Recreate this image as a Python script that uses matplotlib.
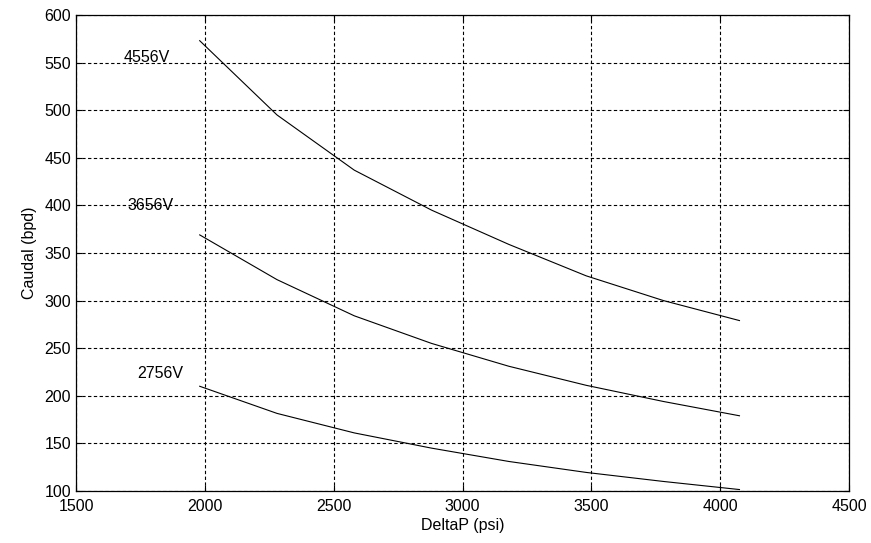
import matplotlib
matplotlib.use("Agg")
import matplotlib.pyplot as plt

# Pump curves
delta_p = [1980, 2280, 2580, 2880, 3180, 3480, 3780, 4075]
caudal_4556v = [573, 495, 437, 395, 359, 326, 300, 279]
caudal_3656v = [369, 322, 284, 255, 231, 211, 194, 179]
caudal_2756v = [210, 181.5, 161, 145, 131, 119.5, 110, 101.5]

curve_names = ["4556V", "3656V", "2756V"]
label_x = [1775, 1790, 1828]
label_y = [555, 400, 223]

x_ticks = [1500, 2000, 2500, 3000, 3500, 4000, 4500]
y_ticks = [100, 150, 200, 250, 300, 350, 400, 450, 500, 550, 600]

plt.rcParams['font.family'] = ['Liberation Sans', 'DejaVu Sans']

fig = plt.figure(figsize=(8.71, 5.43), dpi=100)
ax = fig.add_axes([0.0873, 0.0958, 0.8874, 0.8766])

for series in (caudal_4556v, caudal_3656v, caudal_2756v):
    ax.plot(delta_p, series, color='black', linewidth=0.8)

for name, tx, ty in zip(curve_names, label_x, label_y):
    ax.text(tx, ty, name, ha='center', va='center', fontsize=11.5)

ax.set_xlim(1500, 4500)
ax.set_ylim(100, 600)
ax.set_xticks(x_ticks)
ax.set_yticks(y_ticks)
ax.grid(True, color='black', linestyle=(0, (3, 2.2)), linewidth=0.8)
ax.tick_params(direction='in', length=4, top=True, right=True, labelsize=11.5,
               width=0.8, pad=3.5)
ax.tick_params(axis='x', pad=5.5)
for spine in ax.spines.values():
    spine.set_linewidth(0.9)

ax.set_xlabel('DeltaP (psi)', fontsize=11.5, labelpad=3)
ax.set_ylabel('Caudal (bpd)', fontsize=11.5, labelpad=5)

plt.savefig('out.png', dpi=100)
